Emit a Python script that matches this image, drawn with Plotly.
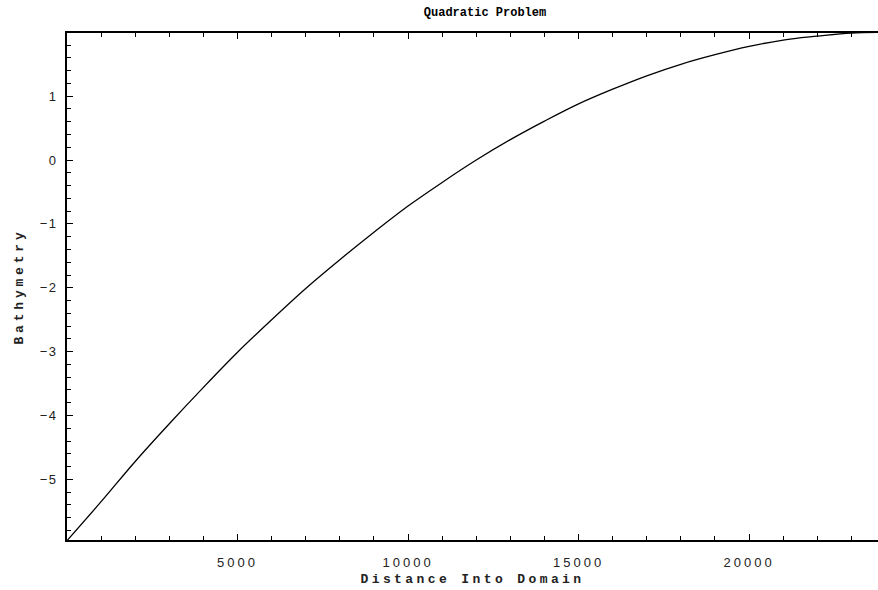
import plotly.graph_objects as go

# Bathymetry profile sampled every 1000 m into the domain
distance = [0, 1000, 2000, 3000, 4000, 5000, 6000, 7000, 8000, 9000, 10000,
            11000, 12000, 13000, 14000, 15000, 16000, 17000, 18000, 19000,
            20000, 21000, 22000, 23000, 24000]
bathymetry = [-5.96, -5.35, -4.72, -4.13, -3.56, -3.01, -2.50, -2.01, -1.56,
              -1.13, -0.72, -0.35, 0.00, 0.32, 0.61, 0.88, 1.11, 1.32, 1.50,
              1.65, 1.78, 1.88, 1.94, 1.99, 2.00]

x_ticks = [5000, 10000, 15000, 20000]
y_ticks = [-5, -4, -3, -2, -1, 0, 1]

mono = "Liberation Mono"
sans = "Liberation Sans"


def spaced(text, px):
    """Wrap text in a span with extra letter spacing."""
    return f'<span style="letter-spacing:{px}px">{text}</span>'


def num(v):
    return str(v).replace("-", "\u2212")


fig = go.Figure(
    go.Scatter(
        x=distance, y=bathymetry, mode="lines",
        line=dict(color="black", width=1.3, shape="spline"),
        hoverinfo="skip",
    )
)

fig.update_layout(
    width=878, height=590,
    margin=dict(l=67, r=0, t=33, b=50),
    paper_bgcolor="white", plot_bgcolor="white",
    showlegend=False,
    title=dict(
        text="<b>Quadratic Problem</b>",
        font=dict(family=mono, size=12, color="black"),
        x=485 / 878, xanchor="center",
        y=1 - 12 / 590, yanchor="middle",
    ),
)

fig.update_xaxes(
    range=[0, 23780],
    showgrid=False, zeroline=False,
    showline=True, linecolor="black", linewidth=1.6, mirror="ticks",
    ticks="inside", ticklen=6, tickwidth=1.2, tickcolor="black",
    tickvals=x_ticks, ticktext=[spaced(num(v), 3) for v in x_ticks],
    tickfont=dict(family=sans, size=13, color="#222"),
    ticklabelstandoff=10,
    minor=dict(dtick=1000, tick0=0, ticks="inside", ticklen=4,
               tickwidth=1.2, tickcolor="black", showgrid=False),
    title=dict(text="<b>" + spaced("Distance Into Domain", 3.4) + "</b>",
               font=dict(family=mono, size=13, color="#222"), standoff=4),
)

fig.update_yaxes(
    range=[-5.95, 1.99],
    showgrid=False, zeroline=False,
    showline=True, linecolor="black", linewidth=1.6, mirror=False,
    ticks="inside", ticklen=6, tickwidth=1.2, tickcolor="black",
    tickvals=y_ticks, ticktext=[spaced(num(v), 1.5) for v in y_ticks],
    tickfont=dict(family=sans, size=13, color="#222"),
    ticklabelstandoff=5,
    minor=dict(dtick=0.2, tick0=0, ticks="inside", ticklen=4,
               tickwidth=1.2, tickcolor="black", showgrid=False),
    title=dict(text="<b>" + spaced("Bathymetry", 3.8) + "</b>",
               font=dict(family=mono, size=13, color="#222"), standoff=13),
)

fig.write_html("out.html")
